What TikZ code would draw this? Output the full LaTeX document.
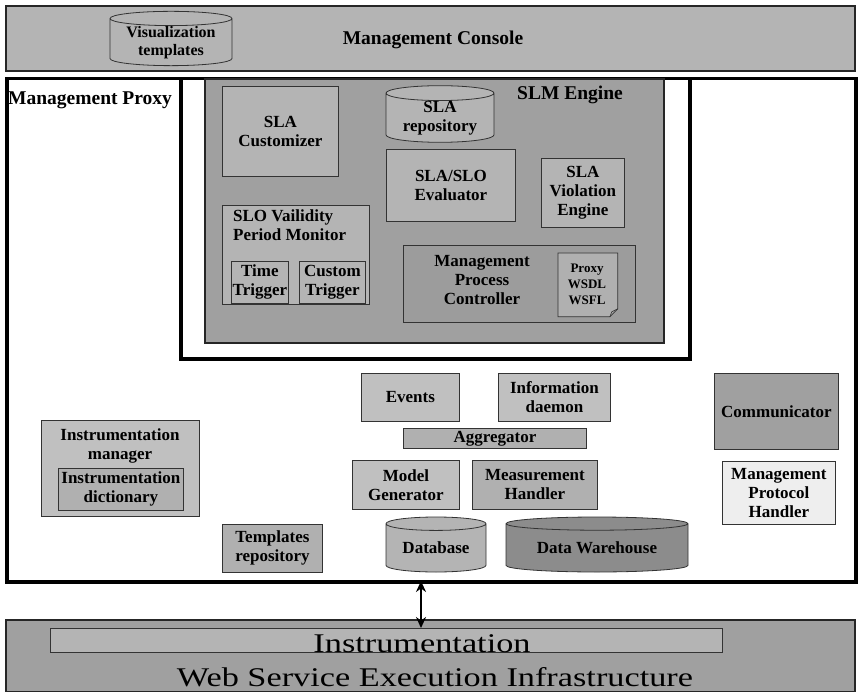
\documentclass[tikz,border=0pt]{standalone}
\usepackage{fontspec}
\setmainfont{Liberation Serif}
\newfontfamily\widefont[FakeStretch=1.27]{Liberation Serif}
\usetikzlibrary{shapes.geometric,arrows.meta}
\definecolor{consolegray}{HTML}{B4B4B4}
\definecolor{enginegray}{HTML}{A0A0A0}
\definecolor{boxgray}{HTML}{B4B4B4}
\definecolor{palegray}{HTML}{C0C0C0}
\definecolor{midgray}{HTML}{B0B0B0}
\definecolor{darkgray}{HTML}{8C8C8C}
\definecolor{mpcgray}{HTML}{9C9C9C}
\definecolor{whitegray}{HTML}{EEEEEE}
\newcommand{\lbl}{\bfseries\fontsize{17}{19}\selectfont}
\newcommand{\ttl}{\bfseries\fontsize{19.5}{22}\selectfont}

\tikzset{
	box/.style={draw=black!80, line width=0.8pt, anchor=north west, inner sep=0pt, align=center, font=\lbl},
	size/.style 2 args={minimum width=#1, minimum height=#2},
	heavy/.style={draw=black, line width=3.5pt},
	frame/.style={draw=black!85, line width=2pt},
	cyl/.style={box, cylinder, shape border rotate=90, anchor=shape center},
	title/.style={font=\ttl, inner sep=0pt}
}

\begin{document}
\begin{tikzpicture}[x=1pt,y=-1pt]
	\useasboundingbox (0,0) rectangle (858,692);
	% console
	\node[box, frame, fill=consolegray, size={849}{65}] (console) at (5,5) {};
	\node[title] (consolelab) at (433,40) {Management Console};
	\node[cyl, fill=consolegray, size={122}{47}, aspect=0.16, font=\bfseries\fontsize{16}{18}\selectfont] (vistpl) at (171,38.5) {Visualization\\templates};
	% proxy
	\node[box, heavy, fill=white, size={849}{503}] (proxy) at (5,77) {};
	\node[title, anchor=west] (proxylab) at (8,100) {Management Proxy};
	\node[box, heavy, fill=white, size={509}{280}] (slmframe) at (179,77) {};
	\node[box, frame, fill=enginegray, size={459}{264}] (engine) at (204,78) {};
	\node[title] (enginelab) at (570,95) {SLM Engine};
	\node[box, fill=boxgray, size={116}{90}] (customizer) at (222,86) {SLA\\Customizer};
	\node[cyl, fill=boxgray, size={108}{54}, aspect=0.2] (slarepo) at (440,114) {SLA\\repository};
	\node[box, fill=boxgray, size={129}{72}] (evaluator) at (386,149) {SLA/SLO\\Evaluator};
	\node[box, fill=boxgray, size={83}{69}] (violation) at (541,158) {SLA\\Violation\\Engine};
	\node[box, fill=boxgray, size={147}{99}] (monitor) at (222,205) {};
	\node[anchor=north west, align=left, font=\lbl, inner sep=0pt] (monitorlab) at (233,210) {SLO Vailidity\\Period Monitor};
	\node[box, fill=boxgray, size={57}{42}] (timetrig) at (231,261) {Time\\Trigger};
	\node[box, fill=boxgray, size={66}{42}] (customtrig) at (299,261) {Custom\\Trigger};
	\node[box, fill=mpcgray, size={232}{77}] (mpc) at (403,245) {};
	\node[font=\lbl, align=center, inner sep=0pt] (mpclab) at (482,280) {Management\\Process\\Controller};
	\node[box, draw=none, size={59}{63}] (wsdl) at (558,253) {};
	\draw[fill=midgray, draw=black!80, line width=0.8pt] (wsdl.north west) -- (wsdl.north east) -- ([yshift=8pt]wsdl.south east) -- ([xshift=-8pt]wsdl.south east) -- (wsdl.south west) -- cycle;
	\draw[black!80, line width=0.6pt] ([yshift=8pt]wsdl.south east) -- ([xshift=-6pt,yshift=5pt]wsdl.south east) -- ([xshift=-8pt]wsdl.south east);
	\node[font=\bfseries\fontsize{13}{16}\selectfont, align=center, inner sep=0pt] (wsdllab) at (587,284) {Proxy\\WSDL\\WSFL};
	% data collection
	\node[box, fill=palegray, size={98}{48}] (events) at (361,373) {Events};
	\node[box, fill=palegray, size={112}{48}] (daemon) at (498,373) {Information\\daemon};
	\node[box, fill=midgray, size={183}{20}] (aggregator) at (403,428) {Aggregator};
	\node[box, fill=palegray, size={107}{49}] (modelgen) at (352,460) {Model\\Generator};
	\node[box, fill=midgray, size={125}{49}] (measure) at (472,460) {Measurement\\Handler};
	\node[cyl, fill=boxgray, size={100}{55}, aspect=0.2] (database) at (436,544.5) {Database};
	\node[cyl, fill=darkgray, size={182}{55}, aspect=0.11] (warehouse) at (597,544.5) {Data Warehouse};
	\node[box, fill=midgray, size={100}{48}] (templates) at (222,524) {Templates\\repository};
	\node[box, fill=palegray, size={158}{96}] (instrmgr) at (41,420) {};
	\node[font=\lbl, align=center, inner sep=0pt] (instrmgrlab) at (120,446) {Instrumentation\\manager};
	\node[box, fill=midgray, size={125}{42}] (dictionary) at (58,468) {Instrumentation\\dictionary};
	\node[box, fill=enginegray, size={124}{76}] (communicator) at (714,373) {Communicator};
	\node[box, fill=whitegray, size={113}{63}] (protocol) at (722,461) {Management\\Protocol\\Handler};
	% infrastructure
	\node[box, frame, fill=enginegray, size={849}{72}] (infra) at (5,619) {};
	\node[box, line width=1pt, fill=consolegray, size={672}{24}] (instrbar) at (50,628) {};
	\node[anchor=base, inner sep=0pt, font=\widefont\fontsize{27}{30}\selectfont] (instrlab) at (422,652) {Instrumentation};
	\node[anchor=base, inner sep=0pt, font=\widefont\fontsize{27}{30}\selectfont] (infralab) at (435,686) {Web Service Execution Infrastructure};
	\coordinate (link) at (421,581);
	\draw[line width=2.6pt, {Stealth[length=11pt,width=10pt]}-{Stealth[length=11pt,width=10pt]}] (link) -- (link |- instrbar.north);
\end{tikzpicture}
\end{document}
